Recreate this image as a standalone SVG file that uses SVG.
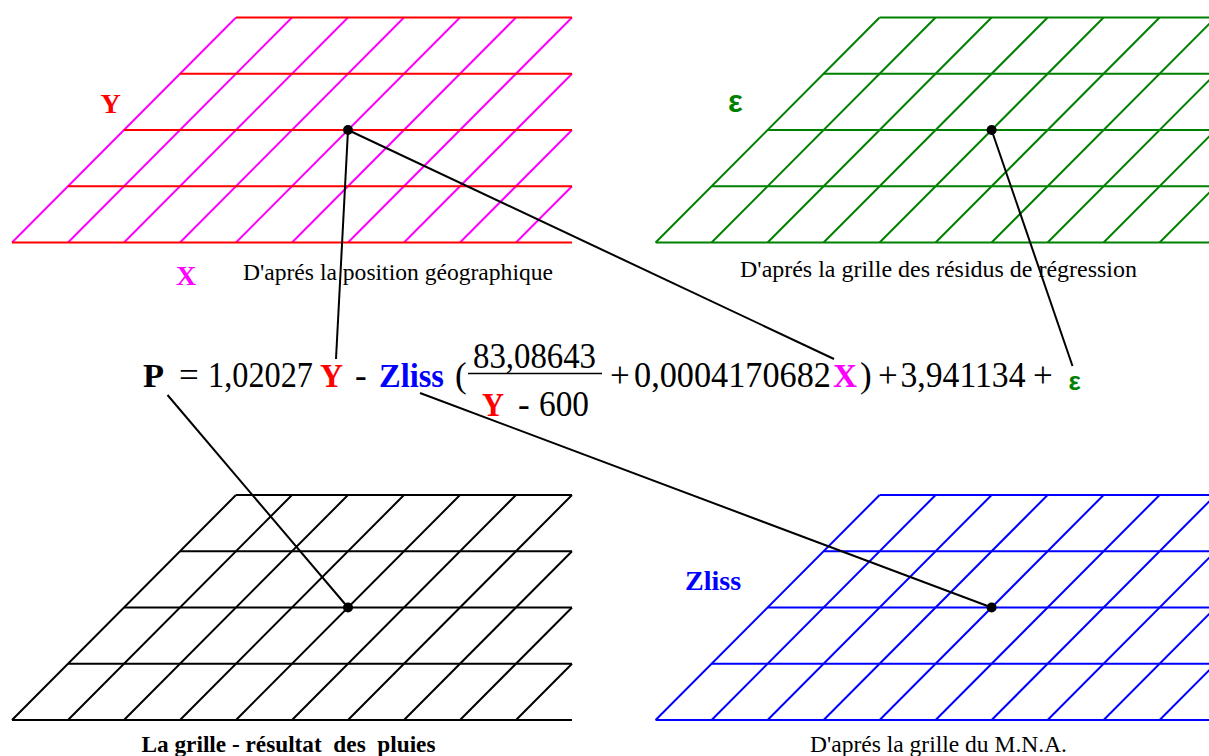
<svg xmlns="http://www.w3.org/2000/svg" width="1209" height="756" viewBox="0 0 1209 756">
<style>
.g{fill:none;stroke-width:2;stroke-linecap:butt}
.c{fill:none;stroke:#000;stroke-width:2}
.dot{fill:#000}
.t{font-family:"Liberation Serif","Times New Roman",serif;fill:#000}
.b{font-weight:bold}
.eq{font-size:35px}
.cap{font-size:23px}
.eps{font-family:"Liberation Sans",Arial,sans-serif;font-weight:bold;fill:#008000}
</style>
<defs>
<path id="h" d="M236 17.5H572M180 73.75H572M124 130H572M68 186.25H572M12 242.5H572"/>
<path id="d" d="M12 242.5L236 17.5M68 242.5L292 17.5M124 242.5L348 17.5M180 242.5L404 17.5M236 242.5L460 17.5M292 242.5L516 17.5M348 242.5L572 17.5M404 242.5L572 73.75M460 242.5L572 130M516 242.5L572 186.25"/>
</defs>
<g id="grid-position">
<use href="#d" class="g" stroke="#ff00ff"/>
<use href="#h" class="g" stroke="#ff0000"/>
<text class="t b" x="100.5" y="112.5" font-size="28" style="fill:#ff0000">Y</text>
<text class="t b" x="176" y="285" font-size="28" style="fill:#ff00ff">X</text>
<text class="t cap" x="243" y="280" textLength="310" lengthAdjust="spacingAndGlyphs">D'aprés la position géographique</text>
</g>
<g id="grid-residus">
<g transform="translate(643.6,0)">
<use href="#d" class="g" stroke="#008000"/>
<use href="#h" class="g" stroke="#008000"/>
</g>
<text class="eps" x="728" y="112" font-size="31">ε</text>
<text class="t cap" x="740" y="276.5" textLength="397" lengthAdjust="spacingAndGlyphs">D'aprés la grille des résidus de régression</text>
</g>
<g id="grid-resultat">
<g transform="translate(0,477.5)">
<use href="#d" class="g" stroke="#000"/>
<use href="#h" class="g" stroke="#000"/>
</g>
<text class="t b" x="141.5" y="751.5" font-size="23" textLength="294" lengthAdjust="spacingAndGlyphs" xml:space="preserve">La grille - résultat  des  pluies</text>
</g>
<g id="grid-mna">
<g transform="translate(643.6,477.5)">
<use href="#d" class="g" stroke="#0000ff"/>
<use href="#h" class="g" stroke="#0000ff"/>
</g>
<text class="t b" x="685" y="590" font-size="28" style="fill:#0000ff">Zliss</text>
<text class="t cap" x="810" y="752" textLength="257" lengthAdjust="spacingAndGlyphs">D'aprés la grille du M.N.A.</text>
</g>
<g id="equation">
<text class="t b" x="143" y="387" font-size="34" textLength="21" lengthAdjust="spacingAndGlyphs">P</text>
<text class="t eq" x="179" y="387">=</text>
<text class="t eq" x="208" y="387" textLength="105" lengthAdjust="spacingAndGlyphs">1,02027</text>
<text class="t b" x="320" y="387" font-size="34" textLength="23" lengthAdjust="spacingAndGlyphs" style="fill:#ff0000">Y</text>
<text class="t eq" x="355" y="387">-</text>
<text class="t b" x="379" y="387" font-size="34" textLength="65" lengthAdjust="spacingAndGlyphs" style="fill:#0000ff">Zliss</text>
<text class="t eq" x="455" y="387">(</text>
<text class="t eq" x="473" y="368" textLength="123" lengthAdjust="spacingAndGlyphs">83,08643</text>
<line x1="468" y1="373.5" x2="602" y2="373.5" stroke="#000" stroke-width="1.5"/>
<text class="t b" x="482" y="416" font-size="34" textLength="22" lengthAdjust="spacingAndGlyphs" style="fill:#ff0000">Y</text>
<text class="t eq" x="518" y="416">-</text>
<text class="t eq" x="539" y="416" textLength="50" lengthAdjust="spacingAndGlyphs">600</text>
<text class="t eq" x="610" y="387">+</text>
<text class="t eq" x="634" y="387" textLength="197" lengthAdjust="spacingAndGlyphs">0,0004170682</text>
<text class="t b" x="833" y="387" font-size="34" textLength="24" lengthAdjust="spacingAndGlyphs" style="fill:#ff00ff">X</text>
<text class="t eq" x="860" y="387">)</text>
<text class="t eq" x="878" y="387">+</text>
<text class="t eq" x="900.5" y="387" textLength="125" lengthAdjust="spacingAndGlyphs">3,941134</text>
<text class="t eq" x="1033" y="387">+</text>
<text class="eps" x="1068.5" y="389.5" font-size="26">ε</text>
</g>
<g id="connectors">
<line class="c" x1="348" y1="130" x2="336" y2="359"/>
<line class="c" x1="348" y1="130" x2="834" y2="359"/>
<line class="c" x1="991.6" y1="130" x2="1072.5" y2="366"/>
<line class="c" x1="167.5" y1="395" x2="348" y2="607.5"/>
<line class="c" x1="420" y1="393" x2="991.6" y2="607.5"/>
<circle class="dot" cx="348" cy="130" r="5"/>
<circle class="dot" cx="991.6" cy="130" r="5"/>
<circle class="dot" cx="348" cy="607.5" r="5"/>
<circle class="dot" cx="991.6" cy="607.5" r="5"/>
</g>
</svg>
